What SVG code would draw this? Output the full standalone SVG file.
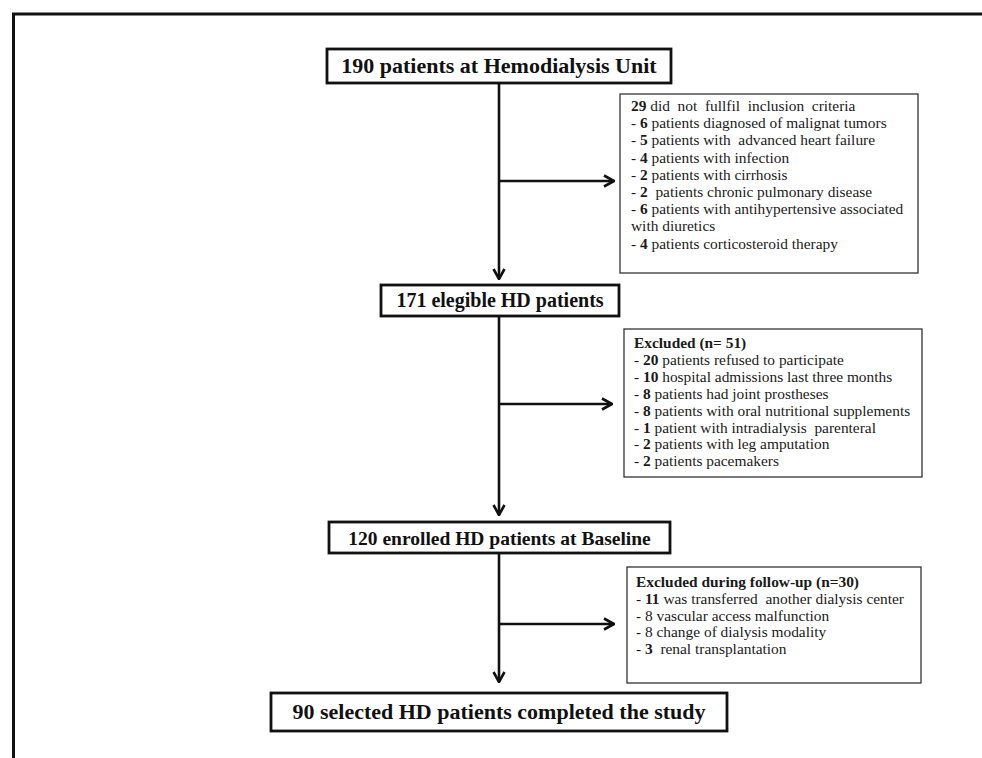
<svg xmlns="http://www.w3.org/2000/svg" width="982" height="758" viewBox="0 0 982 758">
<style>
.frame{fill:none;stroke:#111;stroke-width:3}
.main{fill:#fff;stroke:#111;stroke-width:2.8}
.excl{fill:#fff;stroke:#333;stroke-width:1.3}
.conn{fill:none;stroke:#111;stroke-width:2.6}
.head{font-family:"Liberation Serif",serif;font-weight:bold;fill:#111;text-anchor:middle}
.list{font-family:"Liberation Serif",serif;font-size:15.4px;fill:#1a1a1a}
.b{font-weight:bold}
</style>
<defs>
<marker id="arr" markerUnits="userSpaceOnUse" viewBox="0 0 12 14" refX="11" refY="7" markerWidth="12" markerHeight="14" orient="auto">
<path d="M1,1.5 L11,7 L1,12.5" fill="none" stroke="#111" stroke-width="2.6"/>
</marker>
</defs>
<rect width="982" height="758" fill="#fff"/>
<path class="frame" d="M13.5,762 V14 H986"/>
<g id="connectors">
<line class="conn" x1="499" y1="83" x2="499" y2="279" marker-end="url(#arr)"/>
<line class="conn" x1="499" y1="181" x2="614" y2="181" marker-end="url(#arr)"/>
<line class="conn" x1="499" y1="316" x2="499" y2="515" marker-end="url(#arr)"/>
<line class="conn" x1="499" y1="404" x2="612" y2="404" marker-end="url(#arr)"/>
<line class="conn" x1="499" y1="553" x2="499" y2="682" marker-end="url(#arr)"/>
<line class="conn" x1="499" y1="624" x2="614" y2="624" marker-end="url(#arr)"/>
</g>
<g id="n190">
<rect class="main" x="327" y="49" width="344" height="34"/>
<text class="head" x="499" y="73" font-size="22">190 patients at Hemodialysis Unit</text>
</g>
<g id="excl1">
<rect class="excl" x="620" y="94" width="298" height="179"/>
<text class="list" x="631" y="111" xml:space="preserve"><tspan class="b">29</tspan> did  not  fullfil  inclusion  criteria</text>
<text class="list" x="631" y="128.2" xml:space="preserve">- <tspan class="b">6</tspan> patients diagnosed of malignat tumors</text>
<text class="list" x="631" y="145.4" xml:space="preserve">- <tspan class="b">5</tspan> patients with  advanced heart failure</text>
<text class="list" x="631" y="162.6" xml:space="preserve">- <tspan class="b">4</tspan> patients with infection</text>
<text class="list" x="631" y="179.8" xml:space="preserve">- <tspan class="b">2</tspan> patients with cirrhosis</text>
<text class="list" x="631" y="197" xml:space="preserve">- <tspan class="b">2</tspan>  patients chronic pulmonary disease</text>
<text class="list" x="631" y="214.2" xml:space="preserve">- <tspan class="b">6</tspan> patients with antihypertensive associated</text>
<text class="list" x="631" y="231.4">with diuretics</text>
<text class="list" x="631" y="248.6" xml:space="preserve">- <tspan class="b">4</tspan> patients corticosteroid therapy</text>
</g>
<g id="n171">
<rect class="main" x="381" y="285" width="238" height="31"/>
<text class="head" x="500" y="307" font-size="20">171 elegible HD patients</text>
</g>
<g id="excl2">
<rect class="excl" x="624" y="329" width="298" height="148"/>
<text class="list b" x="634" y="348">Excluded (n= 51)</text>
<text class="list" x="634" y="364.9" xml:space="preserve">- <tspan class="b">20</tspan> patients refused to participate</text>
<text class="list" x="634" y="381.8" xml:space="preserve">- <tspan class="b">10</tspan> hospital admissions last three months</text>
<text class="list" x="634" y="398.7" xml:space="preserve">- <tspan class="b">8</tspan> patients had joint prostheses</text>
<text class="list" x="634" y="415.6" xml:space="preserve">- <tspan class="b">8</tspan> patients with oral nutritional supplements</text>
<text class="list" x="634" y="432.5" xml:space="preserve">- <tspan class="b">1</tspan> patient with intradialysis  parenteral</text>
<text class="list" x="634" y="449.4" xml:space="preserve">- <tspan class="b">2</tspan> patients with leg amputation</text>
<text class="list" x="634" y="466.3" xml:space="preserve">- <tspan class="b">2</tspan> patients pacemakers</text>
</g>
<g id="n120">
<rect class="main" x="329" y="522" width="341" height="31"/>
<text class="head" x="499.5" y="545" font-size="19.5">120 enrolled HD patients at Baseline</text>
</g>
<g id="excl3">
<rect class="excl" x="627" y="567" width="294" height="116"/>
<text class="list b" x="636" y="587">Excluded during follow-up (n=30)</text>
<text class="list" x="636" y="603.8" xml:space="preserve">- <tspan class="b">11</tspan> was transferred  another dialysis center</text>
<text class="list" x="636" y="620.6" xml:space="preserve">- 8 vascular access malfunction</text>
<text class="list" x="636" y="637.4" xml:space="preserve">- 8 change of dialysis modality</text>
<text class="list" x="636" y="654.2" xml:space="preserve">- <tspan class="b">3</tspan>  renal transplantation</text>
</g>
<g id="n90">
<rect class="main" x="271" y="693" width="456" height="38"/>
<text class="head" x="499" y="719" font-size="22">90 selected HD patients completed the study</text>
</g>
</svg>
